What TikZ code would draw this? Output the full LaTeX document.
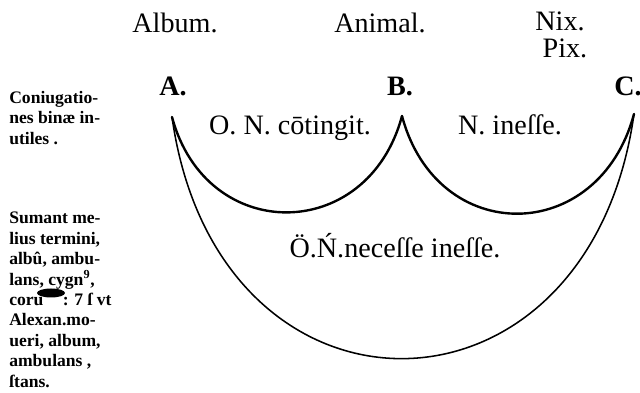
\documentclass[tikz,border=0pt]{standalone}
\usepackage{fontspec}
\setmainfont{Liberation Serif}
\usetikzlibrary{positioning}

\begin{document}
\begin{tikzpicture}[
  x=0.025cm, y=-0.025cm,
  term/.style={font=\fontsize{20}{22}\selectfont, inner sep=0pt, anchor=base},
  letter/.style={font=\fontsize{20}{22}\selectfont\bfseries, inner sep=0pt, anchor=base},
  margin/.style={font=\fontsize{12.5}{14.5}\selectfont\bfseries, align=left,
                 inner sep=0pt, anchor=north west},
  smallarc/.style={line width=1.7pt, line cap=round},
  bigarc/.style={line width=1.1pt, line cap=round},
]
\useasboundingbox (0,0) rectangle (640,393);

% terms on top
\node[term] (album) at (175,33) {Album.};
\node[term] (animal) at (380,33) {Animal.};
\node[term] (nix) at (560,31) {Nix.};
\node[term] (pix) at (565,58) {Pix.};

% the three letters and the tips of the arcs
\node[letter] (A) at (173,96) {A.};
\node[letter] (B) at (400,96) {B.};
\node[letter] (C) at (628,96) {C.};
\coordinate (tipA) at (172,117);
\coordinate (tipB) at (402,116);
\coordinate (tipC) at (634,114);

% arcs
\draw[smallarc] (tipA) to[out=-75, in=-105, looseness=1.47] (tipB);
\draw[smallarc] (tipB) to[out=-75, in=-105, looseness=1.5] (tipC);
\draw[bigarc] (tipA) to[out=-82, in=-98, looseness=1.81] (tipC);

% relations
\node[term] (contingit) at (290,135) {O. N. cōtingit.};
\node[term] (inesse) at (510,135) {N. ineſſe.};
\node[term] (necesse) at (395,258) {Ö.Ń.neceſſe ineſſe.};

% margin notes
\node[margin] (conj) at (9,91) {Coniugatio-\\nes binæ in-\\utiles .};
\node[margin] (sumant) at (9,212) {Sumant me-\\lius termini,\\albû, ambu-\\lans, cygn\textsuperscript{9},\\coru\hspace{1.1em}: 7 ſ vt\\Alexan.mo-\\ueri, album,\\ambulans ,\\ſtans.};
\fill (51,293) ellipse[x radius=14, y radius=4.5];
\end{tikzpicture}
\end{document}
